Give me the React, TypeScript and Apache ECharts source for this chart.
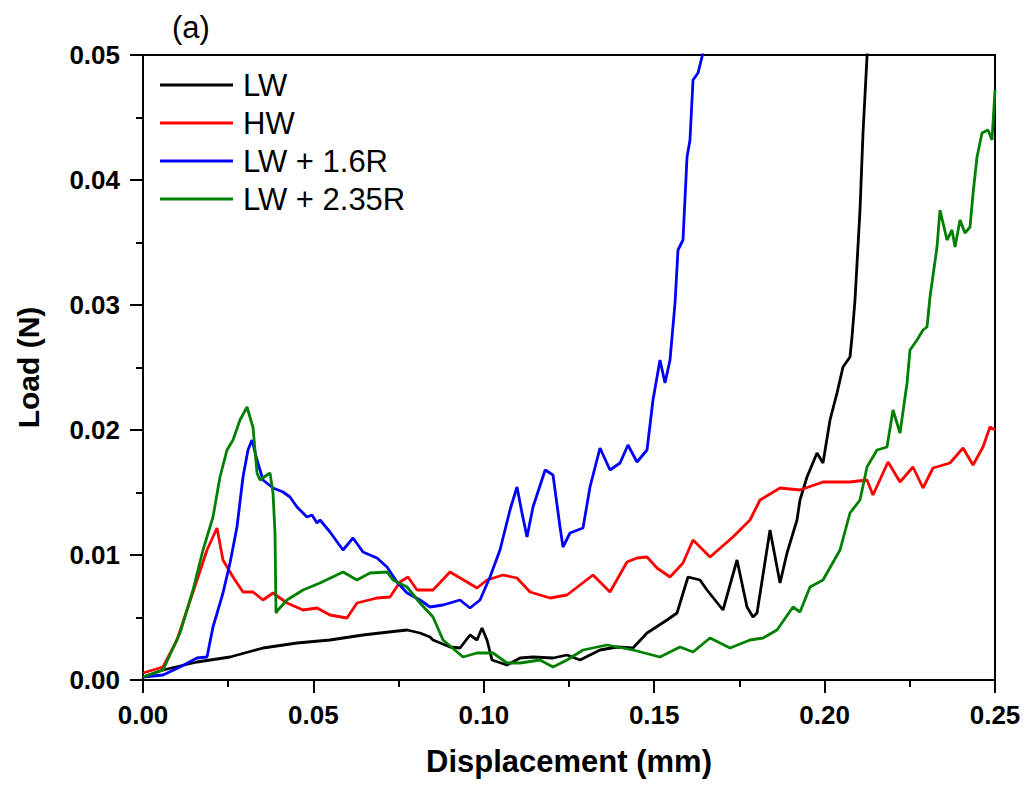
import React, { useEffect, useRef } from "react";
import * as echarts from "echarts";

const seriesNames = ["LW", "HW", "LW + 1.6R", "LW + 2.35R"];
const seriesColors = ["#000000", "#ff0000", "#0000ff", "#008000"];

const xTicks = [0, 0.05, 0.1, 0.15, 0.2, 0.25];
const yTicks = [0, 0.01, 0.02, 0.03, 0.04, 0.05];

const lw: number[][] = [
  [0, 0.00024], [0.00587, 0.0008], [0.01585, 0.00144], [0.02553, 0.00184], [0.03521, 0.00256],
  [0.04519, 0.00296], [0.05487, 0.0032], [0.06455, 0.0036], [0.06954, 0.00376], [0.07747, 0.004],
  [0.08128, 0.00376], [0.08421, 0.00344], [0.0851, 0.0032], [0.09008, 0.00264], [0.09302, 0.00256],
  [0.09595, 0.0036], [0.09801, 0.0032], [0.09947, 0.00416], [0.10094, 0.0032], [0.10241, 0.0016],
  [0.10681, 0.0012], [0.11062, 0.00176], [0.11444, 0.00184], [0.12031, 0.00176], [0.12442, 0.002],
  [0.12823, 0.0016], [0.1341, 0.0024], [0.13909, 0.00264], [0.14378, 0.00256], [0.14789, 0.00376],
  [0.15376, 0.0048], [0.15669, 0.00536], [0.15992, 0.00824], [0.16344, 0.008], [0.1655, 0.0072],
  [0.17019, 0.0056], [0.1743, 0.0096], [0.17723, 0.00584], [0.17899, 0.00504], [0.18017, 0.00536],
  [0.18398, 0.012], [0.18692, 0.00776], [0.18897, 0.01016], [0.1919, 0.0128], [0.19278, 0.0144],
  [0.19484, 0.01624], [0.19777, 0.01816], [0.19953, 0.01736], [0.20159, 0.0208], [0.20364, 0.02296],
  [0.2054, 0.02504], [0.20745, 0.02584], [0.20804, 0.02744], [0.20892, 0.0304], [0.21039, 0.0376],
  [0.21127, 0.04376], [0.21244, 0.04984], [0.213, 0.052],
];

const hw: number[][] = [
  [0, 0.00056], [0.00587, 0.00104], [0.00998, 0.0032], [0.01291, 0.0056], [0.01585, 0.008],
  [0.01878, 0.0104], [0.02171, 0.01216], [0.02347, 0.0096], [0.02641, 0.00824], [0.02934, 0.00704],
  [0.03228, 0.00704], [0.03521, 0.0064], [0.03815, 0.00696], [0.04225, 0.00616], [0.04695, 0.0056],
  [0.05106, 0.00576], [0.05487, 0.0052], [0.05986, 0.00496], [0.06279, 0.00616], [0.06866, 0.00656],
  [0.07248, 0.00664], [0.07541, 0.00784], [0.07776, 0.00824], [0.0804, 0.0072], [0.0851, 0.0072],
  [0.09008, 0.00864], [0.09507, 0.00784], [0.09801, 0.00736], [0.10094, 0.008], [0.10563, 0.0084],
  [0.10974, 0.00816], [0.11356, 0.00704], [0.11943, 0.00656], [0.12442, 0.0068], [0.13204, 0.0084],
  [0.13703, 0.00704], [0.14202, 0.00944], [0.14495, 0.00976], [0.14789, 0.00984], [0.15082, 0.00896],
  [0.15464, 0.00824], [0.15845, 0.00936], [0.16139, 0.0112], [0.16638, 0.00984], [0.17312, 0.01144],
  [0.17811, 0.0128], [0.18105, 0.0144], [0.18692, 0.01536], [0.19278, 0.0152], [0.19953, 0.01584],
  [0.20745, 0.01584], [0.21244, 0.016], [0.2142, 0.0148], [0.21861, 0.01744], [0.22213, 0.01584],
  [0.22594, 0.01704], [0.22888, 0.01536], [0.23181, 0.01696], [0.2368, 0.01736], [0.24061, 0.01856],
  [0.24355, 0.0172], [0.24648, 0.01864], [0.24853, 0.02024], [0.25, 0.02],
];

const lw16r: number[][] = [
  [0, 0.00024], [0.00587, 0.0004], [0.01086, 0.00104], [0.01585, 0.00176], [0.01878, 0.00184],
  [0.02054, 0.00424], [0.02347, 0.00696], [0.02553, 0.00936], [0.02758, 0.01224], [0.02934, 0.01624],
  [0.03081, 0.0184], [0.03198, 0.0192], [0.03345, 0.0176], [0.03521, 0.016], [0.03815, 0.01536],
  [0.04108, 0.01504], [0.04313, 0.01464], [0.04519, 0.01384], [0.04812, 0.01304], [0.04959, 0.0132],
  [0.05106, 0.01256], [0.05194, 0.0128], [0.05487, 0.01184], [0.05869, 0.0104], [0.06162, 0.01136],
  [0.06455, 0.01024], [0.06866, 0.00976], [0.0716, 0.00904], [0.07453, 0.00784], [0.07747, 0.00696],
  [0.08128, 0.0064], [0.08421, 0.00584], [0.08803, 0.006], [0.09302, 0.0064], [0.09595, 0.00576],
  [0.09889, 0.0064], [0.10182, 0.00824], [0.10475, 0.0104], [0.10769, 0.0136], [0.10974, 0.01544],
  [0.11121, 0.01336], [0.11268, 0.01144], [0.11444, 0.01384], [0.118, 0.0168], [0.12031, 0.0164],
  [0.12236, 0.01224], [0.12324, 0.01064], [0.1253, 0.01176], [0.12911, 0.01216], [0.13116, 0.01544],
  [0.1341, 0.01856], [0.13703, 0.0168], [0.13997, 0.01736], [0.14231, 0.0188], [0.14495, 0.01744],
  [0.14789, 0.0184], [0.14965, 0.0224], [0.1517, 0.0256], [0.15317, 0.02376], [0.15464, 0.0256],
  [0.15611, 0.03016], [0.15698, 0.0344], [0.15845, 0.0352], [0.15963, 0.04184], [0.1605, 0.0432],
  [0.16139, 0.048], [0.16285, 0.04856], [0.16432, 0.05016], [0.165, 0.052],
];

const lw235r: number[][] = [
  [0, 0.00024], [0.00587, 0.0008], [0.01086, 0.00376], [0.01467, 0.0072], [0.01761, 0.0104],
  [0.02054, 0.01304], [0.02259, 0.01624], [0.02465, 0.0184], [0.02641, 0.0192], [0.02846, 0.0208],
  [0.03052, 0.02184], [0.03228, 0.0202], [0.03345, 0.01656], [0.03433, 0.016], [0.03639, 0.0164],
  [0.03727, 0.01656], [0.03815, 0.01496], [0.03873, 0.01176], [0.03903, 0.00536], [0.03961, 0.0056],
  [0.04225, 0.0064], [0.04695, 0.0072], [0.05194, 0.00776], [0.05869, 0.00864], [0.06279, 0.008],
  [0.06661, 0.00856], [0.0716, 0.00864], [0.07336, 0.008], [0.07747, 0.00744], [0.08128, 0.00616],
  [0.0851, 0.00504], [0.08803, 0.0032], [0.0939, 0.00184], [0.09801, 0.00216], [0.1027, 0.00216],
  [0.10681, 0.00136], [0.11062, 0.00136], [0.11649, 0.0016], [0.12031, 0.00104], [0.12442, 0.0016],
  [0.12911, 0.0024], [0.13615, 0.0028], [0.14378, 0.0024], [0.1517, 0.00184], [0.15757, 0.00264],
  [0.16139, 0.00224], [0.16638, 0.00336], [0.17225, 0.00256], [0.17811, 0.0032], [0.18193, 0.00336],
  [0.18603, 0.004], [0.19073, 0.00584], [0.19278, 0.00544], [0.19572, 0.00744], [0.19953, 0.008],
  [0.20452, 0.0104], [0.20745, 0.01336], [0.21039, 0.0144], [0.21244, 0.01704], [0.21538, 0.0184],
  [0.21831, 0.01864], [0.22007, 0.0216], [0.22213, 0.01976], [0.22419, 0.02376], [0.22506, 0.0264],
  [0.22712, 0.0272], [0.22888, 0.028], [0.23005, 0.02824], [0.23093, 0.03064], [0.23298, 0.03464],
  [0.23386, 0.0376], [0.23592, 0.0352], [0.23739, 0.036], [0.23827, 0.03464], [0.23973, 0.0368],
  [0.2412, 0.03576], [0.24267, 0.03624], [0.24355, 0.0389], [0.24472, 0.04184], [0.24619, 0.04376],
  [0.24795, 0.044], [0.24912, 0.0432], [0.25, 0.0472],
];

const allData = [lw, hw, lw16r, lw235r];

const FONT = "'Liberation Sans', Arial, sans-serif";

export default function App() {
  const ref = useRef<HTMLDivElement>(null);
  useEffect(() => {
    if (!ref.current) return;
    const chart = echarts.init(ref.current, null, { renderer: "svg" });
    chart.setOption({
      animation: false,
      backgroundColor: "#ffffff",
      grid: {
        left: 143,
        right: 33,
        top: 55,
        bottom: 107,
        show: true,
        borderColor: "#000",
        borderWidth: 2,
        backgroundColor: "transparent",
        containLabel: false,
        outerBoundsMode: "none",
      },
      legend: {
        orient: "vertical",
        left: 155,
        top: 61,
        itemWidth: 73,
        itemHeight: 14,
        itemGap: 0,
        icon: "path://M0,6 L73,6 L73,9 L0,9 Z",
        data: seriesNames.map((n) => ({ name: n })),
        textStyle: {
          fontFamily: FONT,
          fontSize: 31,
          lineHeight: 38,
          color: "#000",
          padding: [0, 0, 0, 5],
        },
      },
      graphic: [
        {
          type: "text",
          left: 172,
          top: 12,
          style: { text: "(a)", fontFamily: FONT, fontSize: 31, fill: "#000" },
        },
      ],
      xAxis: {
        type: "value",
        min: 0,
        max: 0.25,
        interval: 0.05,
        name: "Displacement (mm)",
        nameLocation: "middle",
        nameGap: 66,
        nameTextStyle: { fontFamily: FONT, fontSize: 31, fontWeight: "bold", color: "#000" },
        axisLine: { show: true, lineStyle: { color: "#000", width: 2 } },
        axisTick: { show: true, length: 13, lineStyle: { color: "#000", width: 2 } },
        minorTick: { show: true, splitNumber: 2, length: 7, lineStyle: { color: "#000", width: 2 } },
        splitLine: { show: false },
        axisLabel: {
          margin: 22,
          fontFamily: FONT,
          fontSize: 26,
          fontWeight: "bold",
          color: "#000",
          formatter: (v: number) => {
            const t = xTicks.find((k) => Math.abs(k - v) < 1e-9);
            return t === undefined ? "" : t.toFixed(2);
          },
        },
      },
      yAxis: {
        type: "value",
        min: 0,
        max: 0.05,
        interval: 0.01,
        name: "Load (N)",
        nameLocation: "middle",
        nameGap: 100,
        nameTextStyle: { fontFamily: FONT, fontSize: 30, fontWeight: "bold", color: "#000" },
        axisLine: { show: true, lineStyle: { color: "#000", width: 2 } },
        axisTick: { show: true, length: 13, lineStyle: { color: "#000", width: 2 } },
        minorTick: { show: true, splitNumber: 2, length: 7, lineStyle: { color: "#000", width: 2 } },
        splitLine: { show: false },
        axisLabel: {
          margin: 23,
          fontFamily: FONT,
          fontSize: 26,
          fontWeight: "bold",
          color: "#000",
          formatter: (v: number) => {
            const t = yTicks.find((k) => Math.abs(k - v) < 1e-9);
            return t === undefined ? "" : t.toFixed(2);
          },
        },
      },
      series: seriesNames.map((name, i) => ({
        name,
        type: "line",
        data: allData[i],
        symbol: "none",
        showSymbol: false,
        clip: true,
        color: seriesColors[i],
        lineStyle: { color: seriesColors[i], width: 2.8 },
      })),
    });
    return () => chart.dispose();
  }, []);
  return (
    <div
      ref={ref}
      style={{ position: "fixed", left: 0, top: 0, width: 1028, height: 787, background: "#fff" }}
    />
  );
}
